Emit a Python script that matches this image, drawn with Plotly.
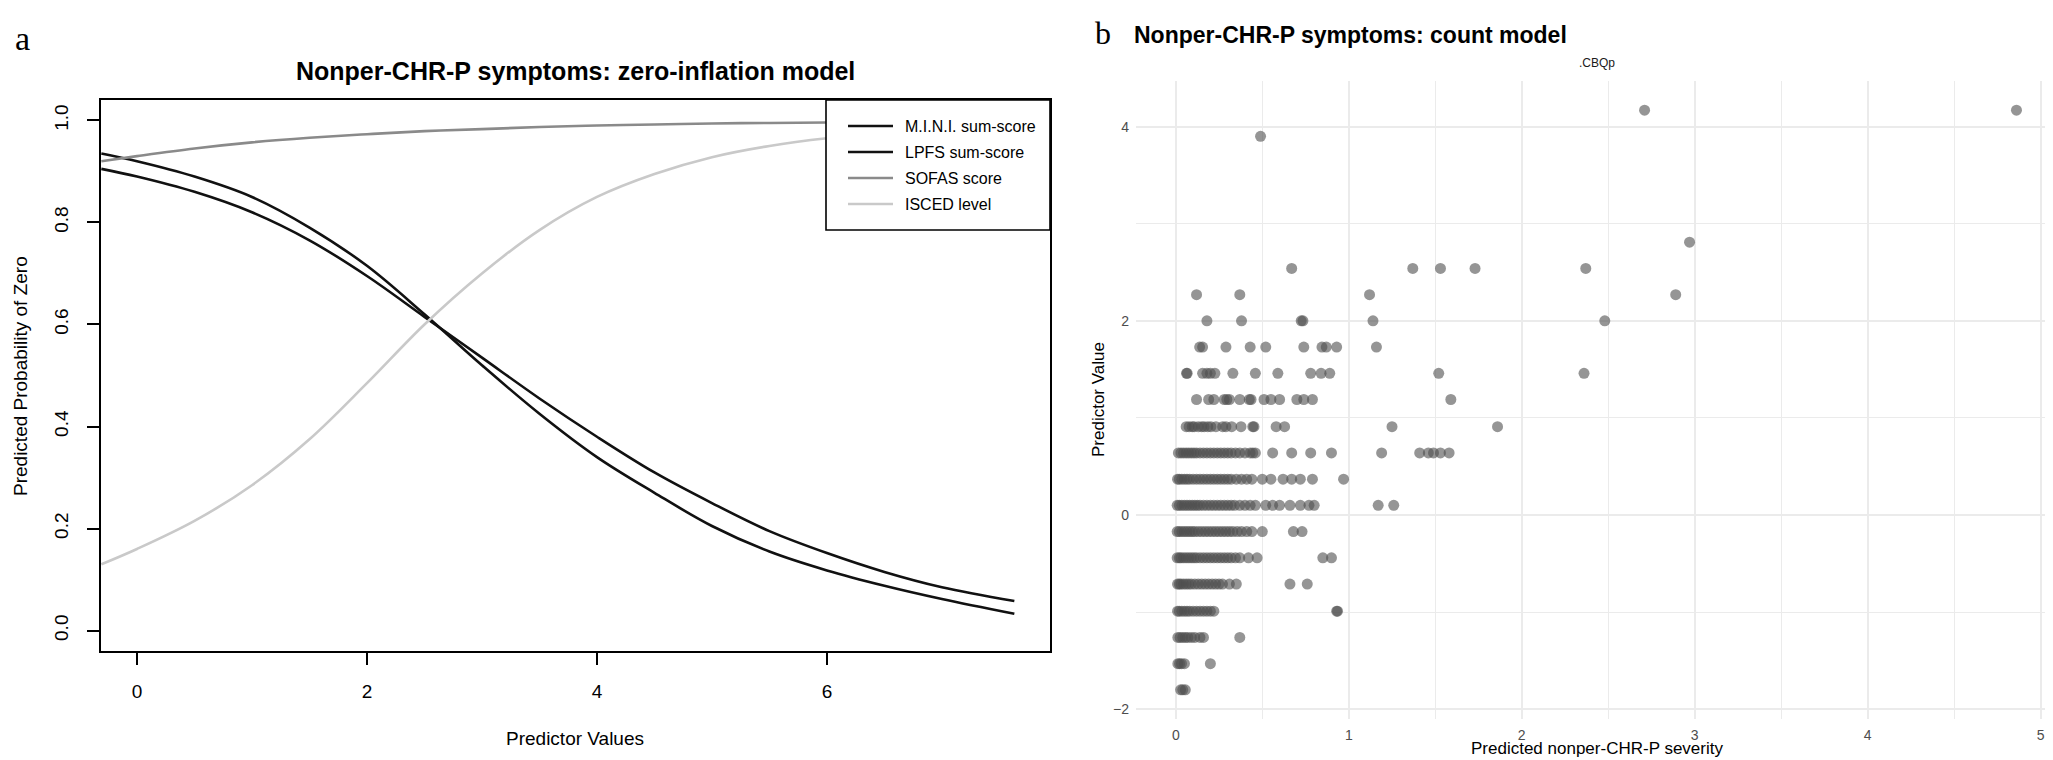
import plotly.graph_objects as go

# ---------------- Panel a: zero-inflation model ----------------
pred_x = [-0.31, 0.0, 0.5, 1.0, 1.5, 2.0, 2.5, 3.0, 3.5, 4.0, 4.5, 5.0, 5.5, 6.0, 6.5, 7.0, 7.63]
mini_prob = [0.935, 0.92, 0.89, 0.85, 0.79, 0.715, 0.62, 0.52, 0.425, 0.34, 0.27, 0.205, 0.155, 0.118, 0.088, 0.062, 0.033]
lpfs_prob = [0.905, 0.89, 0.86, 0.82, 0.765, 0.695, 0.615, 0.535, 0.455, 0.38, 0.31, 0.25, 0.195, 0.152, 0.115, 0.085, 0.058]
sofas_prob = [0.92, 0.93, 0.945, 0.957, 0.966, 0.973, 0.979, 0.983, 0.987, 0.99, 0.992, 0.994, 0.995, 0.996, 0.997, 0.998, 0.998]
isced_prob = [0.13, 0.16, 0.215, 0.285, 0.375, 0.485, 0.60, 0.70, 0.785, 0.85, 0.895, 0.928, 0.95, 0.965, 0.975, 0.982, 0.987]

curve_names = ["M.I.N.I. sum-score", "LPFS sum-score", "SOFAS score", "ISCED level"]
curve_colors = ["#111111", "#111111", "#8a8a8a", "#c9c9c9"]

left_xticks = [0, 2, 4, 6]
left_yticks = [0.0, 0.2, 0.4, 0.6, 0.8, 1.0]

# ---------------- Panel b: count model ----------------
pred_levels = [-1.80, -1.53, -1.26, -0.99, -0.71, -0.44, -0.17, 0.10, 0.37, 0.64,
               0.91, 1.19, 1.46, 1.73, 2.00, 2.27, 2.54, 2.81, 3.90, 4.17]
sev_m180 = [0.028, 0.04, 0.055]
sev_m153 = [0.012, 0.022, 0.033, 0.05, 0.20]
sev_m126 = [0.012, 0.025, 0.04, 0.055, 0.07, 0.09, 0.11, 0.14, 0.16, 0.37]
sev_m099 = [0.01, 0.02, 0.035, 0.05, 0.065, 0.08, 0.1, 0.12, 0.14, 0.16, 0.18, 0.2, 0.22, 0.93, 0.935]
sev_m071 = [0.01, 0.02, 0.03, 0.045, 0.06, 0.075, 0.09, 0.11, 0.13, 0.15, 0.17, 0.19, 0.21, 0.23,
            0.25, 0.27, 0.31, 0.35, 0.66, 0.76]
sev_m044 = [0.008, 0.02, 0.03, 0.045, 0.06, 0.075, 0.09, 0.105, 0.12, 0.14, 0.16, 0.18, 0.2, 0.22,
            0.24, 0.26, 0.28, 0.3, 0.32, 0.345, 0.37, 0.42, 0.47, 0.85, 0.9]
sev_m017 = [0.008, 0.02, 0.035, 0.05, 0.065, 0.08, 0.095, 0.11, 0.13, 0.15, 0.17, 0.19, 0.21, 0.23,
            0.25, 0.27, 0.29, 0.31, 0.33, 0.355, 0.38, 0.41, 0.44, 0.5, 0.68, 0.73]
sev_p010 = [0.008, 0.02, 0.035, 0.05, 0.065, 0.08, 0.095, 0.11, 0.125, 0.14, 0.16, 0.18, 0.2, 0.22,
            0.24, 0.26, 0.28, 0.3, 0.32, 0.34, 0.37, 0.4, 0.43, 0.46, 0.52, 0.56, 0.6, 0.66, 0.72,
            0.77, 0.8, 1.17, 1.26]
sev_p037 = [0.01, 0.02, 0.035, 0.05, 0.065, 0.08, 0.1, 0.12, 0.14, 0.16, 0.18, 0.2, 0.22, 0.24,
            0.26, 0.28, 0.3, 0.32, 0.35, 0.38, 0.41, 0.44, 0.5, 0.55, 0.62, 0.67, 0.72, 0.79, 0.97]
sev_p064 = [0.015, 0.03, 0.045, 0.06, 0.075, 0.09, 0.105, 0.12, 0.14, 0.16, 0.18, 0.2, 0.22, 0.24,
            0.26, 0.28, 0.3, 0.32, 0.345, 0.37, 0.4, 0.43, 0.445, 0.46, 0.56, 0.67, 0.78, 0.9,
            1.19, 1.41, 1.46, 1.49, 1.53, 1.58]
sev_p091 = [0.06, 0.077, 0.095, 0.106, 0.13, 0.15, 0.164, 0.185, 0.203, 0.232, 0.271, 0.29, 0.323,
            0.377, 0.445, 0.452, 0.58, 0.629, 1.25, 1.86]
sev_p119 = [0.12, 0.19, 0.22, 0.28, 0.295, 0.31, 0.37, 0.425, 0.435, 0.51, 0.55, 0.60, 0.70, 0.74,
            0.79, 1.59]
sev_p146 = [0.062, 0.066, 0.155, 0.18, 0.2, 0.226, 0.33, 0.46, 0.59, 0.78, 0.84, 0.89, 1.52, 2.36]
sev_p173 = [0.138, 0.155, 0.29, 0.43, 0.52, 0.74, 0.845, 0.87, 0.93, 1.16]
sev_p200 = [0.18, 0.38, 0.725, 0.735, 1.14, 2.48]
sev_p227 = [0.12, 0.37, 1.12, 2.89]
sev_p254 = [0.67, 1.37, 1.53, 1.73, 2.37]
sev_p281 = [2.97]
sev_p390 = [0.49]
sev_p417 = [2.71, 4.86]
severity_rows = [sev_m180, sev_m153, sev_m126, sev_m099, sev_m071, sev_m044, sev_m017, sev_p010,
                 sev_p037, sev_p064, sev_p091, sev_p119, sev_p146, sev_p173, sev_p200, sev_p227,
                 sev_p254, sev_p281, sev_p390, sev_p417]

right_xticks = [0, 1, 2, 3, 4, 5]
right_yticks = [-2, 0, 2, 4]

# ---------------- build ----------------
W, H = 2053, 760
SANS = "Liberation Sans, Arial, Helvetica, sans-serif"
SERIF = "Liberation Serif, Times New Roman, serif"

def px(x):
    return x / W

def py(y):
    return 1 - y / H

fig = go.Figure()
probs = [mini_prob, lpfs_prob, sofas_prob, isced_prob]
for name, col, vals in zip(curve_names, curve_colors, probs):
    fig.add_trace(go.Scatter(
        x=pred_x, y=vals, mode="lines", name=name, showlegend=False,
        line=dict(color=col, width=2.6, shape="spline", smoothing=1.0),
        xaxis="x", yaxis="y"))

sx, sy = [], []
for lvl, row in zip(pred_levels, severity_rows):
    for v in row:
        sx.append(v)
        sy.append(lvl)
fig.add_trace(go.Scatter(
    x=sx, y=sy, mode="markers", showlegend=False, name=".CBQp",
    marker=dict(size=11, color="rgba(78,78,78,0.6)", line=dict(width=0)),
    xaxis="x2", yaxis="y2"))

axis_a = dict(showline=True, linecolor="black", linewidth=1.6, mirror=True,
              ticks="outside", ticklen=12, tickwidth=1.5, tickcolor="black",
              showgrid=False, zeroline=False,
              tickfont=dict(family=SANS, size=19, color="black"))

grid_b = dict(showline=False, zeroline=False, ticks="", showgrid=True,
              gridcolor="#ebebeb", gridwidth=1.6,
              tickfont=dict(family=SANS, size=14, color="#4d4d4d"))

fig.update_layout(
    width=W, height=H, margin=dict(l=0, r=0, t=0, b=0),
    paper_bgcolor="white", plot_bgcolor="white", showlegend=False,
    xaxis=dict(domain=[px(93), px(1042)], range=[-0.313, 7.94], anchor="y",
               tickvals=left_xticks, ticklabelstandoff=10, **axis_a),
    yaxis=dict(domain=[py(643), py(92)], range=[-0.04, 1.04], anchor="x",
               tickvals=left_yticks, ticktext=["%.1f" % v for v in left_yticks],
               tickangle=-90, ticklabelstandoff=12, **axis_a),
    xaxis2=dict(domain=[px(1128), px(2050)], range=[-0.23, 5.10], anchor="y2",
                tickvals=right_xticks, ticklabelstandoff=6,
                minor=dict(dtick=0.5, tick0=0, showgrid=True, gridcolor="#ebebeb", gridwidth=0.9),
                **grid_b),
    yaxis2=dict(domain=[py(711), py(73)], range=[-2.10, 4.47], anchor="x2",
                tickvals=right_yticks, ticklabelstandoff=6,
                minor=dict(dtick=1, tick0=0, showgrid=True, gridcolor="#ebebeb", gridwidth=0.9),
                **grid_b),
)

# legend box (top-right of panel a, as in base R)
leg_left, leg_right, leg_top, leg_bottom = 818, 1042, 92, 222
fig.add_shape(type="rect", xref="paper", yref="paper",
              x0=px(leg_left), x1=px(leg_right), y0=py(leg_bottom), y1=py(leg_top),
              line=dict(color="black", width=1.6), fillcolor="white", layer="above")
leg_rows = [118, 144, 170, 196]
for name, col, yy in zip(curve_names, curve_colors, leg_rows):
    fig.add_shape(type="line", xref="paper", yref="paper",
                  x0=px(840), x1=px(885), y0=py(yy), y1=py(yy),
                  line=dict(color=col, width=2.6), layer="above")
    fig.add_annotation(text=name, x=px(895), y=py(yy), xref="paper", yref="paper",
                       xanchor="left", yanchor="middle", showarrow=False,
                       font=dict(family=SANS, size=16, color="black"))

ann = [
    dict(text="a", x=px(14), y=py(30), font=dict(family=SERIF, size=34, color="black")),
    dict(text="<b>Nonper-CHR-P symptoms: zero-inflation model</b>", x=px(567), y=py(63),
         font=dict(family=SANS, size=25, color="black")),
    dict(text="Predictor Values", x=px(567), y=py(730), font=dict(family=SANS, size=19, color="black")),
    dict(text="Predicted Probability of Zero", x=px(13), y=py(368), textangle=-90,
         font=dict(family=SANS, size=19, color="black")),
    dict(text="b", x=px(1095), y=py(25), font=dict(family=SERIF, size=32, color="black")),
    dict(text="<b>Nonper-CHR-P symptoms: count model</b>", x=px(1124), y=py(27), xanchor="left",
         font=dict(family=SANS, size=23, color="black")),
    dict(text=".CBQp", x=px(1589), y=py(55), font=dict(family=SANS, size=12, color="#1a1a1a")),
    dict(text="Predicted nonper-CHR-P severity", x=px(1589), y=py(740),
         font=dict(family=SANS, size=17, color="black")),
    dict(text="Predictor Value", x=px(1090), y=py(392), textangle=-90,
         font=dict(family=SANS, size=17, color="black")),
]
for a in ann:
    a.setdefault("xanchor", "center")
    a.update(xref="paper", yref="paper", showarrow=False, yanchor="middle")
    fig.add_annotation(**a)

fig.write_html("out.html")
